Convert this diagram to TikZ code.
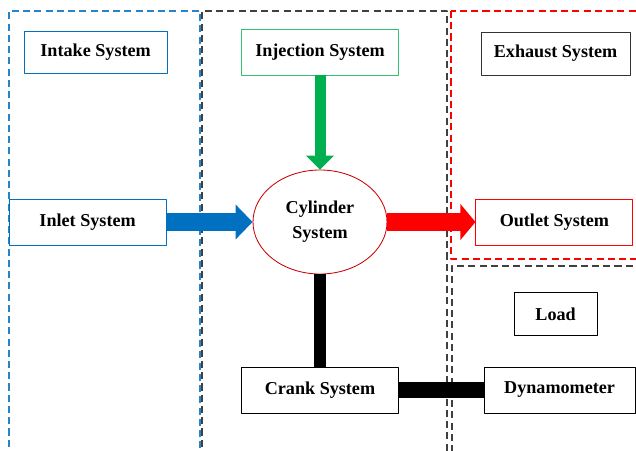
\documentclass[tikz,border=0pt]{standalone}
\usepackage{fontspec}
\setmainfont{Liberation Serif}
\usetikzlibrary{arrows.meta,shapes.geometric}
\definecolor{sysblue}{RGB}{0,112,192}
\definecolor{sysgreen}{RGB}{0,176,80}
\definecolor{sysred}{RGB}{255,0,0}

\begin{document}
\begin{tikzpicture}[line join=round,
    sys/.style={draw,line width=0.6pt,inner sep=0pt,font=\fontsize{12.9}{17.8}\selectfont\bfseries},
    zone/.style={line width=0.9pt,dash pattern=on 5pt off 3pt}]
    \useasboundingbox (0,0) rectangle (15.9,11.25);
    % dashed zones
    \draw[zone,sysblue!85] (0.225,-0.2) -- (0.225,10.975) -- (5,10.975) -- (5,-0.2);
    \draw[zone,black!75] (5.05,-0.2) -- (5.05,10.975) -- (11.175,10.975) -- (11.175,-0.2);
    \draw[zone,sysred] (11.275,10.975) rectangle (16.1,4.775);
    \draw[zone,black!75] (16.1,4.6) -- (11.3,4.6) -- (11.3,-0.2);
    % blocks
    \node[sys,draw=sysblue,minimum width=3.575cm,minimum height=1.05cm] (intake) at (2.39,9.95) {Intake System};
    \node[sys,draw=sysgreen!80,minimum width=3.925cm,minimum height=1.15cm] (inject) at (8,9.95) {Injection System};
    \node[sys,draw=black!80,minimum width=3.725cm,minimum height=1.075cm] (exhaust) at (13.89,9.91) {Exhaust System};
    \node[sys,draw=sysblue,minimum width=3.925cm,minimum height=1.15cm] (inlet) at (2.19,5.7) {Inlet System};
    \node[sys,ellipse,draw=red!80!black,align=center,minimum width=3.35cm,minimum height=2.6cm] (cyl) at (8,5.7) {Cylinder\\System};
    \node[sys,draw=sysred,minimum width=3.925cm,minimum height=1.15cm] (outlet) at (13.86,5.7) {Outlet System};
    \node[sys,minimum width=2.075cm,minimum height=1.075cm] (load) at (13.89,3.39) {Load};
    \node[sys,minimum width=3.925cm,minimum height=1.15cm] (crank) at (8,1.5) {Crank System};
    \node[sys,minimum width=3.775cm,minimum height=1.15cm] (dyno) at (13.99,1.5) {Dynamometer};
    % flows
    \draw[sysgreen,line width=0.275cm,-{Triangle[length=0.35cm,width=0.68cm]}] (inject) -- (cyl);
    \draw[sysblue,line width=0.425cm,-{Triangle[length=0.425cm,width=0.85cm]}] (inlet) -- (cyl);
    \draw[sysred,line width=0.425cm,-{Triangle[length=0.375cm,width=0.875cm]}] (cyl) -- (outlet);
    \draw[line width=0.3cm] (cyl) -- (crank);
    \draw[line width=0.4cm] (crank) -- (dyno);
\end{tikzpicture}
\end{document}
